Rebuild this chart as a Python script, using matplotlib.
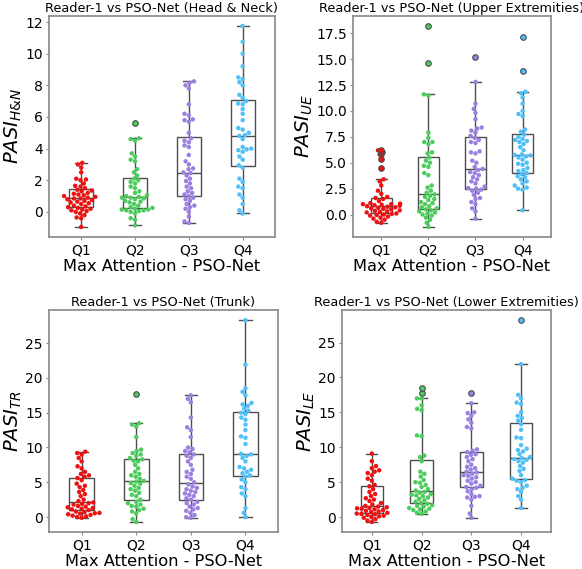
import matplotlib
matplotlib.use("Agg")
import matplotlib.pyplot as plt
from matplotlib.ticker import MultipleLocator
import seaborn as sns
import numpy as np
import pandas as pd

groups = ["Q1", "Q2", "Q3", "Q4"]
colors = ["#ee1111", "#4dcc5e", "#9a80e0", "#4fc0f8"]

# Head & Neck
hn_q1 = [-0.95, -0.4, -0.35, -0.2, -0.1, 0.0, 0.05, 0.1, 0.15, 0.2, 0.25,
         0.3, 0.35, 0.4, 0.5, 0.55, 0.6, 0.65, 0.7, 0.75, 0.8, 0.85,
         0.85, 0.9, 0.95, 1.0, 1.05, 1.1, 1.15, 1.2, 1.3, 1.35, 1.4,
         1.5, 1.6, 1.65, 1.8, 2.0, 2.05, 2.1, 2.5, 2.8, 3.0, 3.1]
hn_q2 = [-0.85, -0.5, -0.4, -0.1, 0.0, 0.05, 0.1, 0.1, 0.15, 0.15, 0.2,
         0.25, 0.3, 0.4, 0.5, 0.6, 0.65, 0.7, 0.8, 0.85, 0.9, 0.9,
         0.95, 1.0, 1.05, 1.2, 1.3, 1.5, 1.6, 1.8, 1.9, 2.0, 2.1,
         2.3, 2.5, 2.7, 3.2, 3.3, 3.5, 3.7, 4.5, 4.6, 4.65, 5.65]
hn_q3 = [-0.7, -0.6, -0.3, 0.0, 0.2, 0.3, 0.4, 0.5, 0.7, 0.8, 0.9,
         1.0, 1.1, 1.2, 1.3, 1.5, 1.6, 1.8, 1.95, 2.1, 2.3, 2.45,
         2.5, 2.7, 2.75, 3.0, 3.2, 3.6, 4.1, 4.2, 4.4, 4.5, 4.65,
         5.0, 5.7, 5.8, 5.85, 6.1, 6.2, 6.8, 7.8, 8.0, 8.15, 8.25]
hn_q4 = [-0.1, 0.1, 0.5, 0.9, 1.1, 1.5, 1.6, 1.9, 2.1, 2.8,
         2.95, 3.3, 3.5, 3.8, 3.9, 3.95, 4.0, 4.1, 4.6, 4.8,
         4.85, 5.0, 5.2, 5.3, 5.8, 6.2, 6.5, 6.8, 6.85, 7.0,
         7.2, 7.4, 8.0, 8.2, 8.4, 8.5, 9.2, 10.0, 10.75, 11.75]

# Upper extremities
ue_q1 = [-0.8, -0.7, -0.5, -0.4, -0.3, -0.2, -0.1, -0.05, 0.0, 0.05, 0.1,
         0.2, 0.25, 0.3, 0.35, 0.4, 0.5, 0.55, 0.6, 0.65, 0.7, 0.75,
         0.8, 0.85, 0.9, 0.95, 1.0, 1.0, 1.05, 1.1, 1.3, 1.5, 1.6,
         1.7, 2.0, 2.3, 2.8, 3.2, 3.4, 4.5, 5.4, 5.8, 6.0, 6.2]
ue_q2 = [-1.2, -0.8, -0.5, -0.3, -0.1, 0.0, 0.1, 0.2, 0.3, 0.4, 0.5,
         0.6, 0.7, 0.8, 1.0, 1.1, 1.2, 1.4, 1.5, 1.7, 1.8, 1.95,
         2.1, 2.3, 2.6, 2.8, 3.8, 4.0, 4.6, 4.7, 5.0, 5.2, 5.5,
         5.9, 6.0, 6.8, 7.0, 7.0, 7.4, 7.9, 11.5, 11.6, 14.6, 18.2]
ue_q3 = [-0.4, 0.3, 0.6, 1.0, 1.2, 1.5, 1.6, 1.9, 2.1, 2.3, 2.4,
         2.5, 2.55, 2.7, 3.0, 3.2, 3.4, 3.6, 3.8, 4.0, 4.1, 4.3,
         4.4, 4.6, 5.0, 5.2, 5.9, 6.0, 6.1, 6.9, 7.0, 7.2, 7.4,
         7.6, 7.9, 8.1, 8.3, 8.4, 9.2, 9.8, 10.2, 10.7, 12.8, 15.2]
ue_q4 = [0.4, 2.4, 2.5, 2.6, 2.8, 3.0, 3.2, 3.4, 3.6, 3.7, 3.9,
         4.0, 4.2, 4.3, 4.5, 4.8, 4.9, 5.0, 5.3, 5.5, 5.6, 5.7,
         5.75, 5.8, 6.2, 6.5, 6.8, 7.0, 7.1, 7.2, 7.3, 7.5, 7.7,
         8.0, 8.2, 9.5, 9.7, 10.0, 10.7, 11.3, 11.7, 11.85, 13.9, 17.1]

# Trunk
tr_q1 = [-0.1, 0.0, 0.1, 0.2, 0.3, 0.4, 0.5, 0.55, 0.6, 0.7, 0.8,
         1.0, 1.1, 1.2, 1.3, 1.4, 1.5, 1.6, 1.8, 1.9, 2.0, 2.1,
         2.3, 2.5, 3.0, 3.3, 3.6, 3.9, 4.3, 4.5, 4.8, 5.3, 5.6,
         5.8, 6.0, 6.2, 6.5, 7.0, 7.3, 8.0, 8.5, 9.0, 9.2, 9.4]
tr_q2 = [-0.7, -0.3, 0.5, 0.8, 1.0, 1.2, 1.5, 1.6, 1.8, 2.0, 2.2,
         2.5, 3.0, 3.2, 3.5, 3.8, 4.0, 4.2, 4.5, 4.8, 4.9, 5.1,
         5.2, 5.5, 5.8, 6.0, 6.2, 6.5, 7.0, 7.5, 8.0, 8.1, 8.3,
         8.5, 8.8, 9.0, 9.2, 9.5, 9.7, 11.5, 13.0, 13.3, 13.5, 17.7]
tr_q3 = [-0.1, 0.0, 0.3, 0.6, 0.9, 1.1, 1.3, 1.5, 1.8, 2.0, 2.2,
         2.5, 2.7, 3.0, 3.2, 3.4, 3.6, 3.8, 4.0, 4.2, 4.4, 4.7,
         5.0, 5.5, 5.8, 6.2, 6.5, 6.8, 7.5, 8.0, 8.5, 8.8, 9.0,
         9.3, 9.5, 9.8, 10.0, 11.5, 12.5, 12.9, 14.3, 16.5, 17.0, 17.5]
tr_q4 = [0.0, 0.6, 1.3, 3.0, 3.4, 4.0, 4.3, 5.0, 5.4, 5.8,
         6.0, 6.3, 6.5, 6.8, 7.0, 7.2, 8.0, 8.5, 8.8, 9.0,
         9.1, 10.5, 11.4, 11.6, 12.5, 13.3, 14.0, 14.3, 14.8, 15.0,
         15.3, 15.6, 16.0, 16.2, 16.4, 17.5, 18.0, 18.5, 21.9, 28.3]

# Lower extremities
le_q1 = [-0.7, -0.5, -0.3, -0.1, 0.0, 0.1, 0.2, 0.3, 0.4, 0.45, 0.5,
         0.6, 0.7, 0.8, 0.9, 1.0, 1.1, 1.2, 1.25, 1.3, 1.4, 1.5,
         1.6, 1.8, 2.0, 2.3, 2.5, 2.7, 3.0, 3.3, 3.6, 4.0, 4.4,
         4.6, 5.2, 5.5, 6.0, 6.3, 6.5, 6.7, 7.0, 7.3, 8.0, 9.1]
le_q2 = [0.5, 0.6, 0.8, 1.0, 1.1, 1.2, 1.3, 1.5, 1.6, 1.7, 1.9,
         2.0, 2.2, 2.4, 2.6, 2.8, 3.0, 3.1, 3.2, 3.3, 3.5, 3.6,
         3.8, 4.0, 4.3, 4.6, 4.9, 5.0, 5.3, 5.8, 6.2, 6.5, 8.0,
         8.6, 8.8, 11.6, 11.7, 15.3, 15.5, 16.0, 17.0, 17.0, 17.7, 18.5]
le_q3 = [-0.1, 0.5, 1.6, 2.5, 2.8, 2.9, 3.0, 3.3, 3.7, 4.0, 4.2,
         4.3, 4.5, 4.8, 5.0, 5.2, 5.5, 5.7, 5.9, 6.0, 6.2, 6.4,
         6.5, 6.8, 7.0, 7.2, 7.5, 8.0, 8.3, 8.6, 8.9, 9.0, 9.3,
         9.5, 9.7, 12.7, 12.9, 13.5, 14.0, 14.5, 14.9, 15.0, 16.3, 17.7]
le_q4 = [1.3, 2.5, 3.0, 3.6, 4.0, 4.2, 4.5, 5.0, 5.2, 5.3,
         5.5, 6.0, 6.6, 6.9, 7.3, 7.8, 8.0, 8.2, 8.3, 8.45,
         8.6, 9.0, 9.4, 9.6, 9.8, 10.3, 11.3, 11.4, 12.5, 13.3,
         13.8, 14.2, 14.5, 15.0, 16.2, 16.4, 17.0, 17.5, 21.9, 28.2]

panels = [
    ("Reader-1 vs PSO-Net (Head & Neck)", r"$PASI_{H&N}$", [hn_q1, hn_q2, hn_q3, hn_q4], 2),
    ("Reader-1 vs PSO-Net (Upper Extremities)", r"$PASI_{UE}$", [ue_q1, ue_q2, ue_q3, ue_q4], 2.5),
    ("Reader-1 vs PSO-Net (Trunk)", r"$PASI_{TR}$", [tr_q1, tr_q2, tr_q3, tr_q4], 5),
    ("Reader-1 vs PSO-Net (Lower Extremities)", r"$PASI_{LE}$", [le_q1, le_q2, le_q3, le_q4], 5),
]

# axes rectangles (left, bottom, width, height) in figure fraction
rects = [
    (0.084, 0.5835, 0.3885, 0.3885),
    (0.6065, 0.5835, 0.340, 0.3885),
    (0.084, 0.065, 0.394, 0.390),
    (0.5876, 0.065, 0.359, 0.390),
]

fig = plt.figure(figsize=(5.82, 5.69), dpi=100)
edge = "#4d4d4d"

for (title, ylab, data, step), rect in zip(panels, rects):
    ax = fig.add_axes(rect)
    df = pd.DataFrame({"grp": np.repeat(groups, [len(d) for d in data]),
                       "val": np.concatenate(data)})
    bp = ax.boxplot(data, positions=range(4), widths=0.45, patch_artist=True,
                    boxprops=dict(facecolor="none", edgecolor=edge, linewidth=1),
                    whiskerprops=dict(color=edge, linewidth=1),
                    capprops=dict(color=edge, linewidth=1),
                    medianprops=dict(color=edge, linewidth=1),
                    flierprops=dict(marker="o", markersize=4, markeredgecolor=edge,
                                    markeredgewidth=0.8),
                    zorder=2)
    for fl, c in zip(bp["fliers"], colors):
        fl.set_markerfacecolor(c)
        fl.set_zorder(4)
    sns.swarmplot(data=df, x="grp", y="val", hue="grp", order=groups,
                  palette=colors, size=3.2, ax=ax, legend=False, zorder=3)
    ax.set_xlim(-0.6, 3.6)
    ax.margins(y=0.05)
    ax.autoscale(axis="y")
    ax.yaxis.set_major_locator(MultipleLocator(step))
    ax.set_xticks(range(4))
    ax.set_xticklabels(groups)
    ax.set_title(title, fontsize=9.3, pad=3)
    ax.set_xlabel("Max Attention - PSO-Net", fontsize=11.7, labelpad=1)
    ax.set_ylabel(ylab, fontsize=14, labelpad=1)
    ax.tick_params(labelsize=10, color="#888888", length=2.5, pad=2)
    for s in ax.spines.values():
        s.set_color("#888888")
        s.set_linewidth(1.2)

fig.savefig("out.png", dpi=100)
